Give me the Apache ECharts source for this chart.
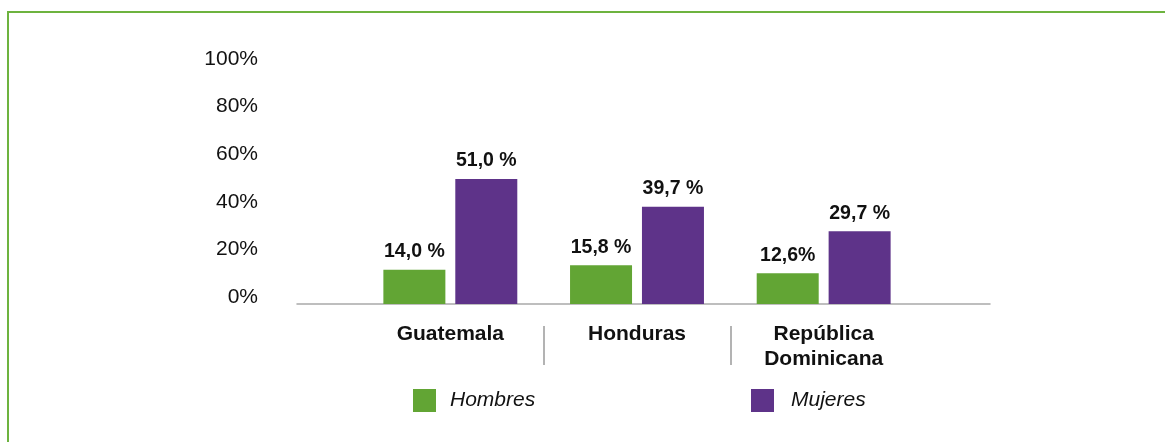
<!DOCTYPE html>
<html>
<head>
<meta charset="utf-8">
<script src="https://cdn.jsdelivr.net/npm/echarts@6/dist/echarts.min.js"></script>
<style>
  html, body { margin: 0; padding: 0; background: #ffffff; }
  #chart { width: 1165px; height: 442px; }
</style>
</head>
<body>
<div id="chart"></div>
<script>
// Share of people by sex, per country (percent)
const countries = ['Guatemala', 'Honduras', 'República\nDominicana'];
const hombres = [14.0, 15.8, 12.6];
const mujeres = [51.0, 39.7, 29.7];
const hombresPctGap = [' ', ' ', ''];
const mujeresPctGap = [' ', ' ', ' '];
const yTicks = [0, 20, 40, 60, 80, 100];

const GREEN = '#62a534';
const PURPLE = '#5e3389';
const FONT = '"Liberation Sans", Arial, sans-serif';

const fmt = (v, gap) => v.toFixed(1).replace('.', ',') + gap + '%';

const chart = echarts.init(document.getElementById('chart'), null, { renderer: 'canvas' });

chart.setOption({
  animation: false,
  backgroundColor: '#ffffff',
  textStyle: { fontFamily: FONT },
  graphic: [{
    type: 'rect',
    shape: { x: 8, y: 12, width: 1300, height: 600 },
    style: { fill: 'none', stroke: '#6db33f', lineWidth: 2 },
    silent: true
  }],
  grid: [
    // baseline across the plot
    { left: 297, right: 175, top: 59, bottom: 138 },
    // value labels on the left
    { left: 297, right: 175, top: 59, bottom: 145 },
    // bars
    { left: 357, right: 248, top: 59, bottom: 138 },
    // separators between country names
    { left: 357, right: 248, top: 326, height: 39 }
  ],
  xAxis: [
    { gridIndex: 0, type: 'category', data: [''],
      axisLine: { show: true, lineStyle: { color: '#a9a9a9', width: 1.5 } },
      axisTick: { show: false }, axisLabel: { show: false }, splitLine: { show: false } },
    { gridIndex: 1, type: 'category', data: [''], show: false },
    { gridIndex: 2, type: 'category', data: countries,
      axisLine: { show: false }, axisTick: { show: false },
      axisLabel: { show: true, margin: 18, color: '#111', fontFamily: FONT,
                   fontSize: 21, fontWeight: 'bold', lineHeight: 25, interval: 0 } },
    { gridIndex: 3, type: 'category', data: countries,
      axisLine: { show: false }, axisTick: { show: false }, axisLabel: { show: false },
      splitLine: { show: true, showMinLine: false, showMaxLine: false,
                   lineStyle: { color: '#9a9a9a', width: 1.5 } } }
  ],
  yAxis: [
    { gridIndex: 0, type: 'value', min: 0, max: 100, show: false },
    { gridIndex: 1, type: 'value', min: 0, max: 100, interval: 20,
      axisLine: { show: false }, axisTick: { show: false }, splitLine: { show: false },
      axisLabel: { margin: 39, color: '#111', fontFamily: FONT, fontSize: 21,
                   formatter: v => (yTicks.includes(v) ? v + '%' : '') } },
    { gridIndex: 2, type: 'value', min: 0, max: 100, show: false },
    { gridIndex: 3, type: 'value', min: 0, max: 1, show: false }
  ],
  legend: [
    { data: ['Hombres'], left: 413, top: 389, padding: 0, itemWidth: 23, itemHeight: 23,
      icon: 'rect', selectedMode: false,
      textStyle: { color: '#111', fontFamily: FONT, fontSize: 21, fontStyle: 'italic',
                   padding: [0, 0, 0, 9] } },
    { data: ['Mujeres'], left: 751, top: 389, padding: 0, itemWidth: 23, itemHeight: 23,
      icon: 'rect', selectedMode: false,
      textStyle: { color: '#111', fontFamily: FONT, fontSize: 21, fontStyle: 'italic',
                   padding: [0, 0, 0, 12] } }
  ],
  series: [
    { name: 'Hombres', type: 'bar', xAxisIndex: 2, yAxisIndex: 2, data: hombres,
      barWidth: 62, barGap: '16%', itemStyle: { color: GREEN },
      label: { show: true, position: 'top', distance: 8, color: '#111', fontFamily: FONT,
               fontSize: 19.5, fontWeight: 'bold',
               formatter: p => fmt(p.value, hombresPctGap[p.dataIndex]) } },
    { name: 'Mujeres', type: 'bar', xAxisIndex: 2, yAxisIndex: 2, data: mujeres,
      barWidth: 62, barGap: '16%', itemStyle: { color: PURPLE },
      label: { show: true, position: 'top', distance: 8, color: '#111', fontFamily: FONT,
               fontSize: 19.5, fontWeight: 'bold',
               formatter: p => fmt(p.value, mujeresPctGap[p.dataIndex]) } }
  ]
});
</script>
</body>
</html>
